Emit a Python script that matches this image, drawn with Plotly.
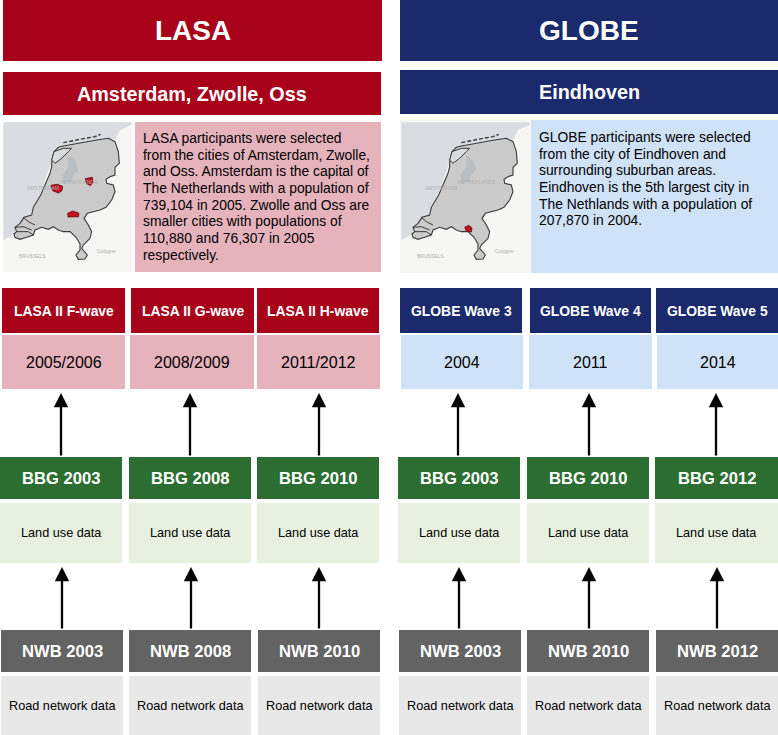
import plotly.graph_objects as go

# ---- content ----
cohorts = ["LASA", "GLOBE"]
cities = ["Amsterdam, Zwolle, Oss", "Eindhoven"]
descriptions = [
    ["LASA participants were selected", "from the cities of Amsterdam, Zwolle,", "and Oss. Amsterdam is the capital of",
     "The Netherlands with a population of", "739,104 in 2005. Zwolle and Oss are", "smaller cities with populations of",
     "110,880 and 76,307 in 2005", "respectively."],
    ["GLOBE participants were selected", "from the city of Eindhoven and", "surrounding suburban areas.",
     "Eindhoven is the 5th largest city in", "The Nethlands with a population of", "207,870 in 2004."],
]
waves = [["LASA II F-wave", "LASA II G-wave", "LASA II H-wave"], ["GLOBE Wave 3", "GLOBE Wave 4", "GLOBE Wave 5"]]
wave_years = [["2005/2006", "2008/2009", "2011/2012"], ["2004", "2011", "2014"]]
bbg = [["BBG 2003", "BBG 2008", "BBG 2010"], ["BBG 2003", "BBG 2010", "BBG 2012"]]
nwb = [["NWB 2003", "NWB 2008", "NWB 2010"], ["NWB 2003", "NWB 2010", "NWB 2012"]]
land_label = "Land use data"
road_label = "Road network data"
map_labels = ["NETHERLANDS", "AMSTERDAM", "BRUSSELS", "Cologne"]

# ---- layout geometry (pixels) ----
W, H = 778, 735
FONT = "Liberation Sans"
RED, PINK = "#a8021b", "#e6b3bd"
NAVY, BLUE = "#1a2a6c", "#d0e2f8"
GREEN, LGREEN = "#2c6e31", "#e8f1df"
GREY, LGREY = "#636363", "#e8e8e8"

wave_x = [[(2, 125), (131, 254), (257, 379)], [(400, 522), (530, 651), (656, 778)]]
year_x = [[(2, 125), (130, 254), (257, 380)], [(401, 523), (529, 652), (657, 778)]]
bbg_x = [[(0, 122), (129, 251), (257, 379)], [(398, 520), (527, 649), (655, 778)]]
nwb_x = [[(1, 123), (129, 251), (258, 380)], [(399, 521), (527, 649), (656, 778)]]
arrow_top = [[61, 190, 319], [458, 589, 716]]
arrow_low = [[62, 191, 319], [459, 589, 717]]

shapes, annos = [], []


def rect(x0, y0, x1, y1, color, layer="below"):
    shapes.append(dict(type="rect", xref="x", yref="y", x0=x0, x1=x1, y0=y0, y1=y1,
                       fillcolor=color, line=dict(width=0), layer=layer))


def text(x, y, s, size, color="#000000", bold=False, anchor="center"):
    annos.append(dict(x=x, y=y, xref="x", yref="y", text=f"<b>{s}</b>" if bold else s, showarrow=False,
                      xanchor=anchor, yanchor="middle", font=dict(family=FONT, size=size, color=color)))


def box(xr, y0, y1, color, s, size, tcolor="#000000", bold=False):
    rect(xr[0], y0, xr[1], y1, color)
    text((xr[0] + xr[1]) / 2, (y0 + y1) / 2, s, size, tcolor, bold)


def arrow(x, y_start, y_end):
    annos.append(dict(x=x, y=y_end, ax=x, ay=y_start, xref="x", yref="y", axref="x", ayref="y", text="",
                      showarrow=True, arrowhead=2, arrowsize=1.25, arrowwidth=2.3, arrowcolor="#050505"))


# Map artwork, traced in thirds of a pixel from each map's origin
sea = [(10, 7), (395, 7), (395, 14), (360, 30), (345, 60), (325, 55), (200, 75), (165, 85), (155, 125), (130, 195),
       (95, 285), (60, 310), (40, 345), (10, 360)]
land_outline = [(162, 95), (175, 82), (190, 78), (215, 73), (250, 68), (290, 60), (325, 55), (345, 65), (355, 95),
                (358, 130), (345, 142), (345, 165), (330, 170), (318, 178), (320, 190), (340, 195), (345, 215),
                (335, 240), (318, 262), (300, 270), (262, 280), (252, 295), (265, 315), (275, 335), (270, 355),
                (262, 362), (250, 375), (245, 385), (255, 395), (262, 405), (255, 417), (235, 418), (228, 405),
                (240, 390), (240, 372), (228, 352), (210, 335), (190, 335), (175, 330), (160, 320), (145, 328),
                (125, 322), (105, 330), (100, 345), (80, 352), (60, 358), (45, 352), (42, 342), (50, 335), (45, 322),
                (60, 310), (72, 292), (95, 285), (100, 262), (122, 225), (135, 195), (150, 160), (155, 140), (155, 125),
                (162, 95)]
inland_water = [(162, 95), (155, 120), (165, 130), (185, 115), (205, 95), (215, 85), (190, 85), (175, 90), (162, 95)]
flevoland = [(205, 105), (225, 120), (235, 150), (220, 165), (215, 185), (190, 190), (188, 165), (205, 140)]
wadden = [(190, 68), (225, 60), (255, 55), (285, 50), (302, 43)]
delta_lines = [[(45, 322), (70, 320), (95, 330)], [(50, 335), (85, 335), (100, 345)], [(70, 292), (85, 305), (105, 315)]]
map_label_pos = [(237, 186), (130, 204), (98, 407), (318, 394)]
map_origin = [(0, 120), (398, 120)]
map_panel = [(3, 122, 132, 272), (400, 120, 531, 273)]
city_blobs = [
    [[(153, 196), (172, 193), (188, 199), (186, 212), (175, 219), (158, 212)],
     [(256, 176), (277, 172), (279, 188), (271, 197), (259, 190)],
     [(203, 280), (218, 273), (236, 279), (236, 290), (204, 291)]],
    [[(200, 322), (212, 316), (222, 324), (220, 336), (205, 334)]],
]
desc_box = [(135, 122, 381, 272), (531, 120, 778, 273)]
desc_start = [(141, 138), (537, 137)]
head_x = [(3, 382), (400, 778)]
sub_x = [(3, 381), (400, 778)]
sub_y = [(72, 115), (70, 114)]

fig = go.Figure()


def mpt(pts, o):
    return [o[0] + p[0] / 3 for p in pts], [o[1] + p[1] / 3 for p in pts]


def poly(pts, o, fill, lc=None, lw=0.0, closed=True, dash=None):
    xs, ys = mpt(pts, o)
    fig.add_trace(go.Scatter(x=xs, y=ys, mode="lines", fill="toself" if closed else None, fillcolor=fill,
                             line=dict(color=lc or "rgba(0,0,0,0)", width=lw, dash=dash),
                             hoverinfo="skip", showlegend=False))


for i in range(2):
    dark, light = (RED, PINK) if i == 0 else (NAVY, BLUE)
    box(head_x[i], 0, 61, dark, cohorts[i], 28, "#ffffff", True)
    box(sub_x[i], sub_y[i][0], sub_y[i][1], dark, cities[i], 19.8, "#ffffff", True)

    # map panel
    o = map_origin[i]
    mx0, my0, mx1, my1 = map_panel[i]
    rect(mx0, my0, mx1, my1, "#f6f6f5")
    poly(sea, o, "#d9dde1")
    poly(land_outline, o, "#cbcbcb", "#3a3a3a", 1.1)
    poly(inland_water, o, "#d9dbde", "#3a3a3a", 1.0)
    poly(flevoland, o, "#b9bec3")
    poly(wadden, o, "rgba(0,0,0,0)", "#3a3a3a", 1.4, closed=False, dash="4px,2px")
    for seg in delta_lines:
        poly(seg, o, "rgba(0,0,0,0)", "#3a3a3a", 1.0, closed=False)
    for blob in city_blobs[i]:
        poly(blob + [blob[0]], o, "#c8101c", "#5a0a0a", 0.8)
    for name, pos in zip(map_labels, map_label_pos):
        text(o[0] + pos[0] / 3, o[1] + pos[1] / 3, name, 5, "#b0b0b0")

    # description
    dx0, dy0, dx1, dy1 = desc_box[i]
    rect(dx0, dy0, dx1, dy1, light)
    tx, ty = desc_start[i]
    for k, line in enumerate(descriptions[i]):
        text(tx, ty + k * 16.65, line, 13.85, anchor="left")

    for j in range(3):
        box(wave_x[i][j], 288, 333, dark, waves[i][j], 13.9, "#ffffff", True)
        box(year_x[i][j], 335, 389, light, wave_years[i][j], 16)
        arrow(arrow_top[i][j], 457, 393)
        box(bbg_x[i][j], 457, 499, GREEN, bbg[i][j], 16.6, "#ffffff", True)
        box(bbg_x[i][j], 503, 563, LGREEN, land_label, 12.7)
        arrow(arrow_low[i][j], 630, 567)
        box(nwb_x[i][j], 630, 672, GREY, nwb[i][j], 16.6, "#ffffff", True)
        box(nwb_x[i][j], 676, 735, LGREY, road_label, 12.7)

fig.update_layout(width=W, height=H, margin=dict(l=0, r=0, t=0, b=0), paper_bgcolor="#ffffff", plot_bgcolor="#ffffff",
                  xaxis=dict(range=[0, W], visible=False, fixedrange=True),
                  yaxis=dict(range=[H, 0], visible=False, fixedrange=True),
                  shapes=shapes, annotations=annos, showlegend=False)
fig.write_html("out.html", config={"displayModeBar": False},
               post_script="document.body.style.margin='0';document.documentElement.style.overflow='hidden';")
